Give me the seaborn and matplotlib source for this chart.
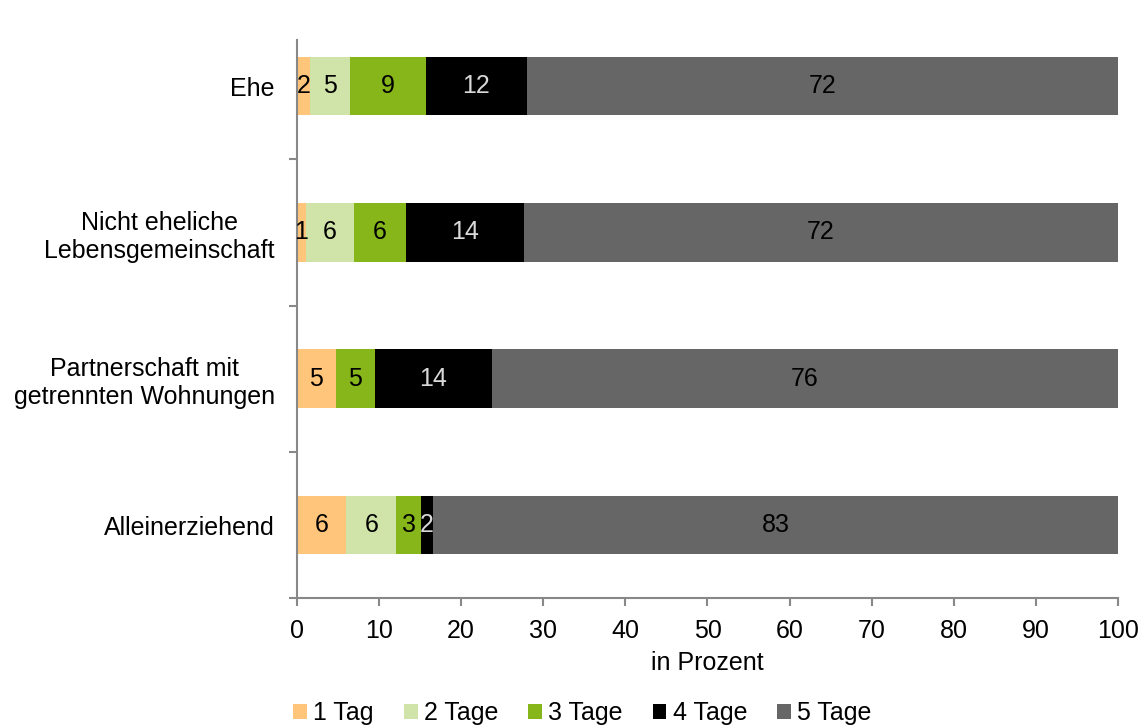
import numpy as np
import pandas as pd
import matplotlib
matplotlib.use("Agg")
import matplotlib.pyplot as plt
from matplotlib.patches import Patch
import seaborn as sns

# Data (percent)
categories = ['Ehe', 'Nicht eheliche\nLebensgemeinschaft',
              'Partnerschaft mit\ngetrennten Wohnungen', 'Alleinerziehend']
series = ['1 Tag', '2 Tage', '3 Tage', '4 Tage', '5 Tage']
tag1 = [1.6, 1.1, 4.7, 6.0]
tag2 = [4.9, 5.8, 0.0, 6.1]
tag3 = [9.2, 6.4, 4.8, 3.0]
tag4 = [12.3, 14.3, 14.2, 1.5]
tag5 = [72.0, 72.4, 76.3, 83.4]
labels = [['2', '5', '9', '12', '72'],
          ['1', '6', '6', '14', '72'],
          ['5', '', '5', '14', '76'],
          ['6', '6', '3', '2', '83']]

colors = ['#FFC57A', '#D0E3A8', '#86B61A', '#000000', '#666666']
text_colors = ['black', 'black', 'black', '#D9D9D9', 'black']

df = pd.DataFrame({'Kategorie': categories, '1 Tag': tag1, '2 Tage': tag2,
                   '3 Tage': tag3, '4 Tage': tag4, '5 Tage': tag5})
cum = df[series].cumsum(axis=1)

sns.set_theme(style="white")
plt.rcParams['font.family'] = ['Liberation Sans', 'DejaVu Sans']
plt.rcParams['text.color'] = 'black'
plt.rcParams['axes.labelcolor'] = 'black'
plt.rcParams['xtick.labelcolor'] = 'black'
plt.rcParams['ytick.labelcolor'] = 'black'
fs = 18

fig = plt.figure(figsize=(11.42, 7.26), dpi=100)
ax = fig.add_axes([0.260, 0.176, 0.979 - 0.260, 0.945 - 0.176])

# stacked bars: draw cumulative totals from the longest to the shortest
for s, c in reversed(list(zip(series, colors))):
    sns.barplot(x=cum[s], y=df['Kategorie'], color=c, orient='h',
                width=0.4, saturation=1, linewidth=0, ax=ax)

# segment labels
for i in range(len(categories)):
    left = 0
    for j, s in enumerate(series):
        v = df[s][i]
        if labels[i][j]:
            ax.text(left + v / 2, i, labels[i][j], ha='center', va='center',
                    color=text_colors[j], fontsize=fs)
        left += v

ax.set_xlim(0, 100)
ax.set_ylim(3.5, -0.315)
ax.set_xticks(np.arange(0, 101, 10))
ax.set_yticks(range(len(categories)))
ax.set_yticklabels(categories, multialignment='center')
ax.set_yticks([0.5, 1.5, 2.5, 3.5], minor=True)
ax.tick_params(axis='y', which='major', length=0, pad=16, labelsize=fs)
ax.tick_params(axis='y', which='minor', left=True, length=6, color='#888888', width=1.5)
ax.tick_params(axis='x', bottom=True, length=6, color='#888888', width=1.5, labelsize=fs, pad=9)
ax.set_xlabel('in Prozent', fontsize=fs, labelpad=6)
ax.set_ylabel('')

for side in ['top', 'right']:
    ax.spines[side].set_visible(False)
for side in ['left', 'bottom']:
    ax.spines[side].set_color('#888888')
    ax.spines[side].set_linewidth(1.5)

handles = [Patch(facecolor=c, edgecolor='none') for c in colors]
fig.legend(handles, series, loc='lower center', bbox_to_anchor=(0.51, -0.03),
           ncol=5, frameon=False, fontsize=fs, handlelength=0.55, handleheight=0.55,
           handletextpad=0.25, columnspacing=1.2)

fig.savefig('out.png', dpi=100)
